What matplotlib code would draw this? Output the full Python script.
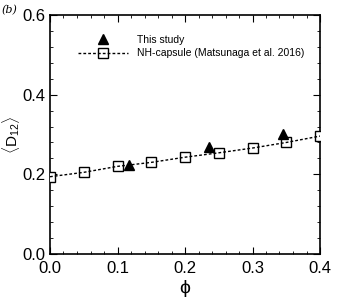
import matplotlib
matplotlib.use("Agg")
import matplotlib.pyplot as plt
from matplotlib.ticker import MultipleLocator

plt.rcParams['font.family'] = ['Liberation Sans', 'DejaVu Sans']
plt.rcParams['mathtext.fontset'] = 'custom'
plt.rcParams['mathtext.rm'] = 'Liberation Sans'
plt.rcParams['mathtext.it'] = 'Liberation Sans:italic'

# NH-capsule (Matsunaga et al. 2016)
phi_nh = [0.0, 0.05, 0.1, 0.15, 0.2, 0.25, 0.3, 0.35, 0.4]
d12_nh = [0.194, 0.205, 0.220, 0.230, 0.243, 0.254, 0.266, 0.280, 0.296]

# this study
phi_ts = [0.1175, 0.2355, 0.3455]
d12_ts = [0.224, 0.269, 0.301]

fig = plt.figure(figsize=(3.37, 3.0), dpi=100)
ax = fig.add_axes([50/337, 46/300, 270/337, 239/300])

# squares first, dashed line on top (line shows through the boxes)
sq, = ax.plot(phi_nh, d12_nh, ls='none', marker='s', ms=7.5, mfc='white',
              mec='black', mew=1.0, zorder=3)
dl, = ax.plot(phi_nh, d12_nh, ls=(0, (2, 1.5)), lw=1.0, color='black', zorder=4)
tri, = ax.plot(phi_ts, d12_ts, ls='none', marker='^', ms=7, color='black', zorder=5)

ax.set_xlim(0, 0.4)
ax.set_ylim(0, 0.6)
ax.xaxis.set_major_locator(MultipleLocator(0.1))
ax.xaxis.set_minor_locator(MultipleLocator(0.02))
ax.yaxis.set_major_locator(MultipleLocator(0.2))
ax.yaxis.set_minor_locator(MultipleLocator(0.04))
ax.xaxis.set_major_formatter(lambda v, p: f"{v:.1f}")
ax.yaxis.set_major_formatter(lambda v, p: f"{v:.1f}")
ax.tick_params(which='both', direction='in', top=True, right=True, labelsize=12)
ax.tick_params(which='major', length=5)
ax.tick_params(which='minor', length=2.5)
ax.tick_params(axis='x', pad=5)
for s in ax.spines.values():
    s.set_linewidth(1.2)

ax.set_xlabel('ϕ', fontsize=14, labelpad=3)
ax.set_ylabel(r'$\langle\mathrm{D}_{12}\rangle$', fontsize=11)
ax.yaxis.set_label_coords(-0.105, 0.5)

ax.legend([tri, (sq, dl)], ['This study', 'NH-capsule (Matsunaga et al. 2016)'],
          loc='upper left', bbox_to_anchor=(0.07, 0.955),
          frameon=False, fontsize=7.5, handlelength=4.8, handletextpad=0.8,
          labelspacing=0.3)

fig.text(0.005, 0.985, '(b)', fontsize=8, style='italic', family='DejaVu Serif',
         va='top', ha='left')

fig.savefig('out.png', dpi=100)
